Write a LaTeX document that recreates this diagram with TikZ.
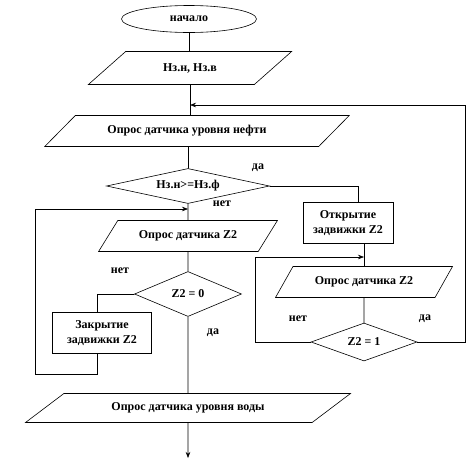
\documentclass[tikz,border=0pt]{standalone}
\usepackage{fontspec}
\setmainfont{Liberation Serif}
\usetikzlibrary{shapes.geometric,arrows.meta,calc}
\tikzset{
	base/.style={draw,font=\bfseries\fontsize{12}{15}\selectfont,inner sep=0pt,align=center},
	par/.style={base,trapezium,trapezium stretches=true},
	blk/.style={base,rectangle},
	cond/.style={base,diamond},
	lbl/.style={font=\bfseries\fontsize{12}{15}\selectfont,inner sep=0pt}
}
\begin{document}
\begin{tikzpicture}[x=1pt,y=-1pt,line width=0.6pt,line cap=round,>={Stealth[length=6pt,width=4.5pt]}]
	\useasboundingbox (0,0) rectangle (468,461);
	\node[base,ellipse,minimum width=135pt,minimum height=27pt] (start) at (189,19) {начало};
	\node[par,trapezium left angle=32,trapezium right angle=148,minimum width=205pt,minimum height=33pt] (p1) at (190,68) {Нз.н, Нз.в};
	\node[par,trapezium left angle=32,trapezium right angle=148,minimum width=305pt,minimum height=31pt] (p2) at (197,131) {\hspace*{-20pt}Опрос датчика уровня нефти};
	\node[cond,aspect=4.6,minimum width=163pt,minimum height=35pt] (d1) at (188,186) {Нз.н>=Нз.ф};
	\node[blk,minimum width=90pt,minimum height=41pt] (ot) at (348,223) {Открытие\\задвижки Z2};
	\node[par,trapezium left angle=41,trapezium right angle=139,minimum width=177pt,minimum height=31pt] (p3) at (364,282) {Опрос датчика Z2};
	\node[cond,aspect=2.8,minimum width=106pt,minimum height=38pt] (d3) at (364,342) {Z2 = 1};
	\node[par,trapezium left angle=38,trapezium right angle=142,minimum width=179pt,minimum height=31pt] (p4) at (188,236) {Опрос датчика Z2};
	\node[cond,aspect=2.4,minimum width=107pt,minimum height=45pt] (d2) at (188,294) {Z2 = 0};
	\node[blk,minimum width=99pt,minimum height=41pt] (zk) at (102,333) {Закрытие\\задвижки Z2};
	\node[par,trapezium left angle=24,trapezium right angle=156,minimum width=325pt,minimum height=29pt] (p5) at (188,408) {Опрос датчика уровня воды};
	\foreach \t/\x/\y [count=\i] in {да/258/168, нет/222/204, нет/120/271, да/213/333, нет/298/319, да/425/319}
		\node[lbl] (lbl\i) at (\x,\y) {\t};
	\coordinate (r1) at (465,105);
	\coordinate (r2) at (255,257);
	\coordinate (l0) at (97,374);
	\coordinate (l1) at (35,209);
	\coordinate (e) at (188,458);
	\draw (start.south) -- (start.south |- p1.north);
	\draw (p1.south) -- (p1.south |- p2.north);
	\draw[->] (d3.east) -| (r1) -- (r1 -| p1.south);
	\draw (d1.north |- p2.south) -- (d1.north);
	\draw (d1.east) -| ($(ot.north)+(10,0)$);
	\draw (ot.south -| p3.north) -- (p3.north);
	\draw[->] (d3.west) -| (r2) -- (r2 -| p3.north);
	\draw (p3.south) -- (d3.north);
	\draw (d1.south) -- (p4.north);
	\draw (p4.south) -- (d2.north);
	\draw (d2.west) -| (l0 |- zk.north);
	\draw[->] (l0 |- zk.south) -- (l0) -| (l1) -- (l1 -| p4.north);
	\draw (d2.south) -- (p5.north);
	\draw[->] (p5.south) -- (e);
\end{tikzpicture}
\end{document}
